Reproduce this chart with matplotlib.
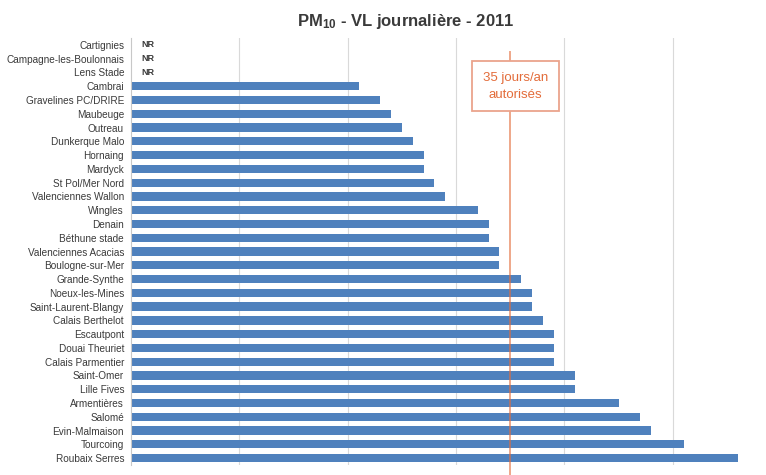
import matplotlib.pyplot as plt
import numpy as np

# stations, top to bottom as in the chart
sites = ["Cartignies", "Campagne-les-Boulonnais", "Lens Stade", "Cambrai",
         "Gravelines PC/DRIRE", "Maubeuge", "Outreau", "Dunkerque Malo",
         "Hornaing", "Mardyck", "St Pol/Mer Nord", "Valenciennes Wallon",
         "Wingles", "Denain", "Béthune stade", "Valenciennes Acacias",
         "Boulogne-sur-Mer", "Grande-Synthe", "Noeux-les-Mines",
         "Saint-Laurent-Blangy", "Calais Berthelot", "Escautpont",
         "Douai Theuriet", "Calais Parmentier", "Saint-Omer", "Lille Fives",
         "Armentières", "Salomé", "Evin-Malmaison", "Tourcoing", "Roubaix Serres"]
# nombre de jours de dépassement (None = NR, non représentatif)
jours = [None, None, None, 21, 23, 24, 25, 26, 27, 27, 28, 29, 32, 33, 33, 34,
         34, 36, 37, 37, 38, 39, 39, 39, 41, 41, 45, 47, 48, 51, 56]
seuil = 35
seuil_texte = "35 jours/an\nautorisés"
titre = r"PM$_{10}$ - VL journalière - 2011"

plt.rcParams['font.family'] = ['Liberation Sans', 'DejaVu Sans']
plt.rcParams['mathtext.fontset'] = 'custom'
plt.rcParams['mathtext.rm'] = 'Liberation Sans:bold'
plt.rcParams['mathtext.default'] = 'rm'

bleu = '#4F81BD'
orange = '#E36C3A'
gris = '#3A3A3A'

fig = plt.figure(figsize=(7.66, 4.75), dpi=100)
ax = fig.add_axes([0.171, 0.021, 0.829, 0.899])

y = np.arange(len(sites))
vals = np.array([0 if v is None else v for v in jours], dtype=float)
ax.barh(y, vals, height=0.6, color=bleu, zorder=2)

for i, v in enumerate(jours):
    if v is None:
        ax.text(1.0, i, "NR", ha='left', va='center', fontsize=6.5,
                fontweight='bold', color=gris)

ax.set_xlim(0, 58.6)
ax.set_ylim(len(sites) - 0.5, -0.5)
ax.set_yticks(y)
ax.set_yticklabels(sites, fontsize=7.2, color=gris)
ax.tick_params(axis='y', length=0, pad=5)
ax.set_xticks([10, 20, 30, 40, 50])
ax.tick_params(axis='x', length=0, labelbottom=False)
ax.grid(axis='x', color='#D9D9D9', linewidth=0.8, zorder=0)
for s in ['top', 'right', 'bottom']:
    ax.spines[s].set_visible(False)
ax.spines['left'].set_color('#C8C8C8')

# limite 35 jours
ax.axvline(seuil, ymin=-0.05, ymax=0.967, color=orange, alpha=0.6,
           linewidth=1.4, zorder=3, clip_on=False)
ax.text(seuil + 0.5, 3.0, seuil_texte, ha='center', va='center', fontsize=9.5,
        color=orange, linespacing=1.6, zorder=4,
        bbox=dict(boxstyle='square,pad=0.8', facecolor='white',
                  edgecolor='#EBA48C', linewidth=1.3))

fig.text(0.529, 0.954, titre, ha='center', va='center', fontsize=12,
         fontweight='bold', color=gris)

fig.savefig('out.png', dpi=100)
